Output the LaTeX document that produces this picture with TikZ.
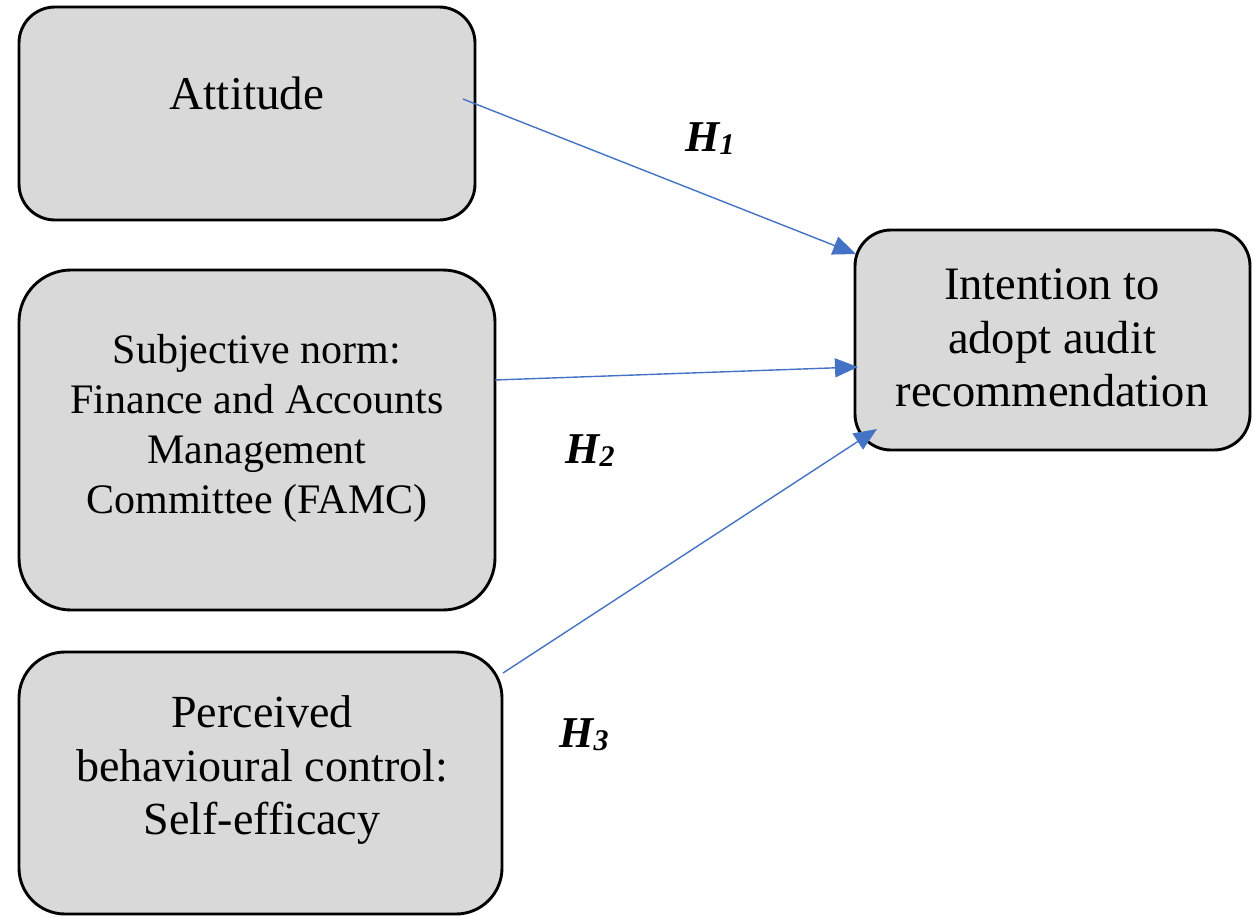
\documentclass[tikz,border=0pt]{standalone}
\usepackage{fontspec}
\setmainfont{Liberation Serif}
\usetikzlibrary{arrows.meta}
\definecolor{boxgray}{HTML}{D9D9D9}
\definecolor{arrowblue}{HTML}{4472C4}
\newcommand{\hyp}[1]{{\fontsize{44}{44}\selectfont\bfseries\itshape H\raisebox{-0.07em}{\fontsize{30}{30}\selectfont #1}}}
\begin{document}
\begin{tikzpicture}[x=1pt,y=-1pt,
  boxshape/.style={draw=black,line width=2.9pt,fill=boxgray,inner sep=0pt},
  boxtext/.style={align=center,inner sep=0pt,text=black},
  link/.style={draw=arrowblue,line width=1.4pt,-{Triangle[length=23pt,width=19pt]}},
  hlabel/.style={inner sep=0pt}]
\useasboundingbox (0,0) rectangle (1253,916);
% boxes
\node[boxshape,minimum width=456pt,minimum height=213pt,rounded corners=36pt] (A) at (247,113.5) {};
\node[boxshape,minimum width=476pt,minimum height=340pt,rounded corners=52pt] (B) at (257,440) {};
\node[boxshape,minimum width=483pt,minimum height=262pt,rounded corners=46pt] (C) at (260.5,783) {};
\node[boxshape,minimum width=395pt,minimum height=220pt,rounded corners=36pt] (D) at (1052.5,340) {};
% texts
\node[boxtext,font=\fontsize{47}{53}\selectfont] (At) at (247,93) {Attitude};
\node[boxtext,font=\fontsize{42}{50}\selectfont] (Bt) at (257,428) {Subjective norm:\\Finance and Accounts\\Management\\Committee (FAMC)};
\node[boxtext,font=\fontsize{46}{53.5}\selectfont] (Ct) at (262,770) {Perceived\\behavioural control:\\Self-efficacy};
\node[boxtext,font=\fontsize{46.5}{53.5}\selectfont] (Dt) at (1052,338) {Intention to\\adopt audit\\recommendation};
% connectors
\coordinate (a1) at (463,99);
\coordinate (a2) at (856,254);
\coordinate (b1) at (495,380);
\coordinate (b2) at (858,367);
\coordinate (c1) at (503,673);
\coordinate (c2) at (877,429);
\draw[link] (a1) -- (a2);
\draw[link] (b1) -- (b2);
\draw[link] (c1) -- (c2);
% labels
\node[hlabel] (H1) at (710,139) {\hyp{1}};
\node[hlabel] (H2) at (590,451) {\hyp{2}};
\node[hlabel] (H3) at (584,735) {\hyp{3}};
\end{tikzpicture}
\end{document}
